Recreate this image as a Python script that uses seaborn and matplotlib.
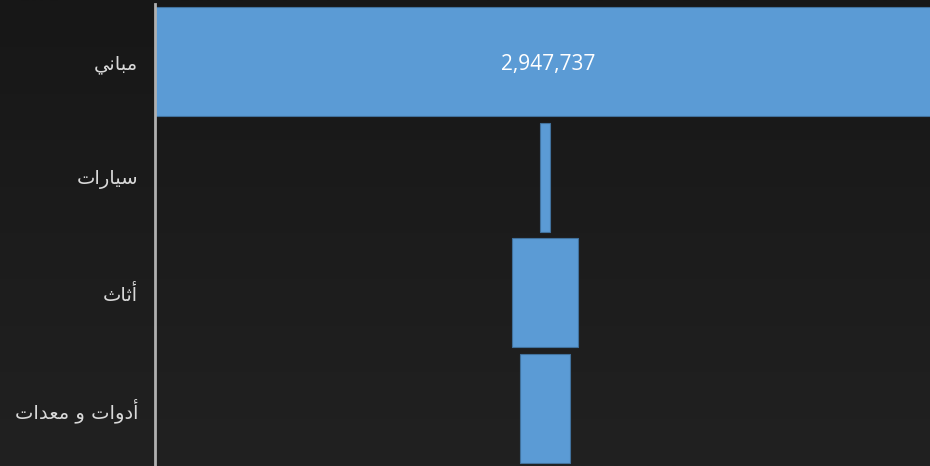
import numpy as np
import pandas as pd
import matplotlib
matplotlib.use("Agg")
import matplotlib.pyplot as plt
import seaborn as sns

# Funnel stages (Arabic labels in visual order, presentation forms)
categories = [
    "\uFEF2\uFEE7\uFE8E\uFE92\uFEE3",                                  # مباني
    "\uFE95\uFE8D\uFEAD\uFE8E\uFEF4\uFEB3",                            # سيارات
    "\uFE99\uFE8E\uFE9B\uFE83",                                        # أثاث
    "\uFE95\uFE8D\uFEAA\uFECC\uFEE3 \uFEED \uFE95\uFE8D\uFEED\uFEA9\uFE83",  # أدوات و معدات
]
values = [2947737, 36700, 252000, 192700]
value_labels = ["2,947,737", None, None, None]

df = pd.DataFrame({"category": categories, "value": values})

sns.set_theme(style="white")
plt.rcParams["font.family"] = ["DejaVu Sans"]

fig = plt.figure(figsize=(9.3, 4.66), dpi=100)

# dark vertical gradient background
bg = fig.add_axes([0, 0, 1, 1], zorder=0)
grad = np.linspace(0, 1, 256).reshape(-1, 1)
bg.imshow(grad, aspect="auto", cmap=matplotlib.colors.LinearSegmentedColormap.from_list(
    "bg", ["#171717", "#212121"]), extent=[0, 1, 0, 1], origin="upper")
bg.set_axis_off()

ax = fig.add_axes([155 / 930, 0, 775 / 930, 462 / 466], zorder=1)
ax.patch.set_alpha(0)

sns.barplot(data=df, x="value", y="category", orient="h", color="#5b9bd5",
            saturation=1, width=0.944, edgecolor="#41719c", linewidth=0.8, ax=ax)

# center each bar to form the funnel
for p in ax.patches:
    p.set_x(-p.get_width() / 2)

v0 = values[0]
ax.set_xlim(-v0 / 2, v0 / 2 * 385 / 390)
ax.set_ylim(3.5, -0.5)

for i, lab in enumerate(value_labels):
    if lab:
        ax.text(v0 * 3 / 780, i, lab, ha="center", va="center_baseline", color="white",
                fontsize=15, family="Open Sans")

ax.set_xlabel("")
ax.set_ylabel("")
ax.set_xticks([])
ax.tick_params(axis="y", length=0, pad=12, labelsize=14, labelcolor="#d9d9d9")
for s in ["top", "right", "bottom"]:
    ax.spines[s].set_visible(False)
ax.spines["left"].set_color("#b0b0b0")
ax.spines["left"].set_linewidth(2)

fig.savefig("out.png", dpi=100, facecolor="#1c1c1c")
